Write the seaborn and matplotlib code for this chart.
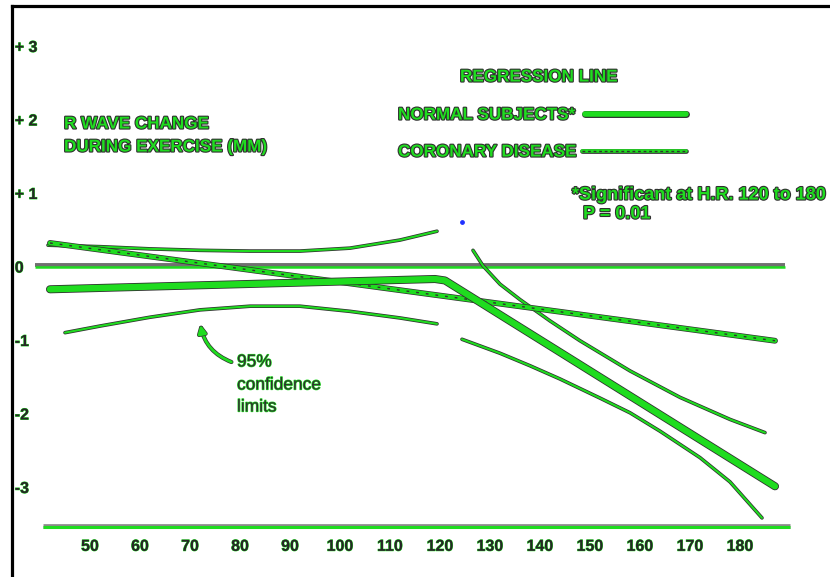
import matplotlib
matplotlib.use("Agg")
import matplotlib.pyplot as plt
import matplotlib.patheffects as pe
import seaborn as sns

# heart rate (beats/min) and R wave change (mm)
hr_coronary = [42, 187]
r_coronary = [0.32, -1.01]

hr_normal = [42, 119, 121, 187]
r_normal = [-0.31, -0.17, -0.19, -2.99]

# 95% confidence limits, below H.R. 120
hr_ci_low_up = [41.6, 52, 62, 72, 82, 92, 102, 112, 119.4]
r_ci_low_up = [0.29, 0.27, 0.24, 0.22, 0.21, 0.21, 0.25, 0.36, 0.48]
hr_ci_low_dn = [45, 52, 62, 72, 82, 92, 102, 112, 119.4]
r_ci_low_dn = [-0.90, -0.81, -0.69, -0.59, -0.54, -0.54, -0.61, -0.70, -0.78]

# 95% confidence limits, H.R. 120 to 180
hr_ci_high_up = [126.6, 128.6, 132, 136, 142, 148, 158, 168, 178, 185]
r_ci_high_up = [0.22, 0.01, -0.24, -0.45, -0.74, -1.01, -1.42, -1.78, -2.08, -2.26]
hr_ci_high_dn = [124.4, 132, 138, 144, 152, 158, 164, 172, 178, 184.4]
r_ci_high_dn = [-0.99, -1.18, -1.35, -1.53, -1.79, -1.99, -2.24, -2.60, -2.93, -3.42]

# stray scan dot
hr_dot = [124.4]
r_dot = [0.61]

x_ticks = [50, 60, 70, 80, 90, 100, 110, 120, 130, 140, 150, 160, 170, 180]
y_ticks = [-3, -2, -1, 0, 1, 2, 3]
y_tick_labels = ["-3", "-2", "-1", "0", "+ 1", "+ 2", "+ 3"]

GREEN = "#1fdc1f"
DARK = "#303030"
W, H = 830, 577


def fpos(x, y):
    # pixel position -> figure fraction
    return x / W, 1 - y / H


sns.set_theme(style="white")
plt.rcParams["font.family"] = ["Liberation Sans", "DejaVu Sans"]

fig = plt.figure(figsize=(W / 100, H / 100), dpi=100)
ax = fig.add_axes([12 / W, 0, (W - 12) / W, (H - 6) / H])
ax.set_xlim(34.4, 198.0)
ax.set_ylim(-4.224, 3.544)

for side in ["right", "bottom"]:
    ax.spines[side].set_visible(False)
for side in ["left", "top"]:
    ax.spines[side].set_color("black")
    ax.spines[side].set_linewidth(2.3)

dark_edge = lambda w: [pe.Stroke(linewidth=w, foreground=DARK), pe.Normal()]

# reference lines
ax.plot([39, 189], [0, 0], color=GREEN, lw=1.8, solid_capstyle="butt",
        path_effects=[pe.Stroke(linewidth=2.8, foreground="#707070", offset=(0, 0.8)), pe.Normal()])
ax.plot([40.5, 190], [-3.55, -3.55], color=GREEN, lw=2.2, solid_capstyle="butt",
        path_effects=[pe.Stroke(linewidth=3.4, foreground="#8a8a8a", offset=(0, 0.8)), pe.Normal()])

# confidence limits
for xs, ys in [(hr_ci_low_up, r_ci_low_up), (hr_ci_low_dn, r_ci_low_dn),
               (hr_ci_high_up, r_ci_high_up), (hr_ci_high_dn, r_ci_high_dn)]:
    sns.lineplot(x=xs, y=ys, ax=ax, color=GREEN, linewidth=1.5,
                 path_effects=dark_edge(2.6))

# coronary disease regression line (dashed look)
sns.lineplot(x=hr_coronary, y=r_coronary, ax=ax, color=GREEN, linewidth=3.2,
             path_effects=dark_edge(4.2))
ax.plot(hr_coronary, r_coronary, color=DARK, lw=1.0, dashes=(2, 5))

# normal subjects regression line
sns.lineplot(x=hr_normal, y=r_normal, ax=ax, color=GREEN, linewidth=4.6,
             path_effects=dark_edge(5.8))

ax.scatter(hr_dot, r_dot, s=6, color="#2030ff", zorder=5)

# ticks, drawn inside the frame
ax.set_xticks(x_ticks)
ax.set_xticklabels([str(v) for v in x_ticks])
ax.set_yticks(y_ticks)
ax.set_yticklabels(y_tick_labels)
ax.tick_params(axis="both", length=0, labelsize=11.5, labelcolor="#262626")
ax.tick_params(axis="x", pad=-27.5)
ax.tick_params(axis="y", pad=-2)
for lab in ax.get_yticklabels():
    lab.set_ha("left")
    lab.set_fontweight("bold")
    lab.set_path_effects([pe.withStroke(linewidth=0.6, foreground=GREEN)])
for lab in ax.get_xticklabels():
    lab.set_fontweight("bold")
    lab.set_path_effects([pe.withStroke(linewidth=0.6, foreground=GREEN)])
ax.set_xlabel("")
ax.set_ylabel("")

head = dict(color=GREEN, fontsize=12.3, fontweight="bold", va="center", ha="left",
            path_effects=[pe.withStroke(linewidth=1.6, foreground=DARK)])
fig.text(*fpos(64, 124), "R WAVE CHANGE", **head)
fig.text(*fpos(64, 147), "DURING EXERCISE (MM)", **head)
fig.text(*fpos(460, 77), "REGRESSION LINE", **head)
fig.text(*fpos(398, 115), "NORMAL SUBJECTS*", **head)
fig.text(*fpos(398, 152), "CORONARY DISEASE", **head)
note = dict(head, fontsize=13)
fig.text(*fpos(572, 195), "*Significant at H.R. 120 to 180", **note)
fig.text(*fpos(583, 214), "P = 0.01", **note)

# legend swatches
x0, y0 = fpos(585, 114)
x1, _ = fpos(686, 114)
fig.add_artist(plt.Line2D([x0, x1], [y0, y0], color=GREEN, lw=4.0,
                          path_effects=dark_edge(5.0)))
x0, y0 = fpos(582, 151)
x1, _ = fpos(686, 151)
fig.add_artist(plt.Line2D([x0, x1], [y0, y0], color=GREEN, lw=2.6,
                          path_effects=dark_edge(3.4)))
fig.add_artist(plt.Line2D([x0, x1], [y0, y0], color=DARK, lw=1.0, dashes=(2, 2)))

# confidence limits note with curved arrow
body = dict(color=DARK, fontsize=12.5, va="center", ha="left",
            path_effects=[pe.withStroke(linewidth=0.9, foreground=GREEN)])
fig.text(*fpos(237, 362), "95%", **body)
fig.text(*fpos(237, 385), "confidence", **body)
fig.text(*fpos(237, 407), "limits", **body)
ax.annotate("", xy=fpos(200, 322), xytext=fpos(234, 363),
            xycoords="figure fraction", textcoords="figure fraction",
            arrowprops=dict(arrowstyle="-|>", color=GREEN, lw=2.0,
                            connectionstyle="arc3,rad=-0.3", mutation_scale=12,
                            path_effects=dark_edge(3.0)))

fig.savefig("out.png", dpi=100)
